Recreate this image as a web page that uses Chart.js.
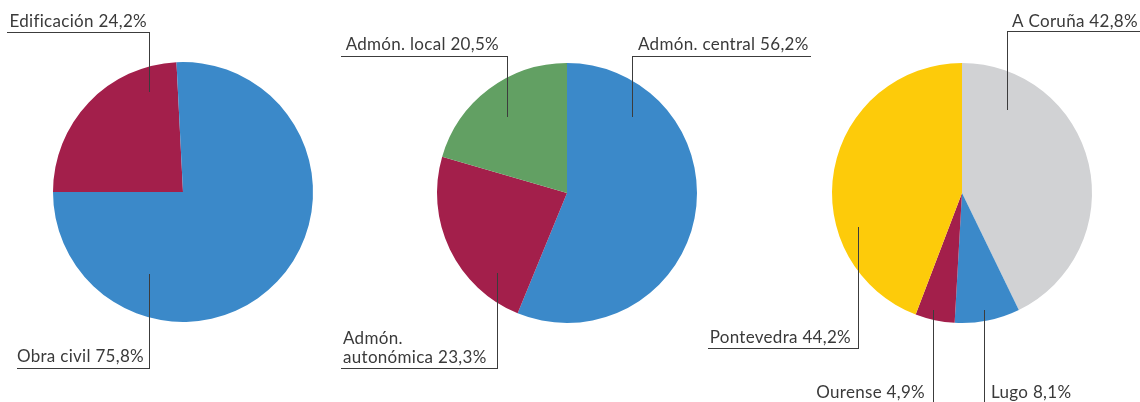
<!DOCTYPE html>
<html lang="es">
<head>
<meta charset="UTF-8">
<title>Licitación pública</title>
<script src="https://cdn.jsdelivr.net/npm/chart.js"></script>
<style>
    body { margin: 0; background: #fff; }
    #wrap { position: relative; width: 1140px; height: 402px; }
    #wrap canvas { position: absolute; left: 0; top: 0; }
</style>
</head>
<body>
<div id="wrap">
    <canvas id="tipoChart" width="1140" height="402"></canvas>
    <canvas id="adminChart" width="1140" height="402"></canvas>
    <canvas id="provChart" width="1140" height="402"></canvas>
</div>
<script>
    // datos
    const tipoCats = ['Edificación', 'Obra civil'];
    const tipoVals = [24.2, 75.8];
    const adminCats = ['Admón. central', 'Admón. autonómica', 'Admón. local'];
    const adminVals = [56.2, 23.3, 20.5];
    const provCats = ['A Coruña', 'Lugo', 'Ourense', 'Pontevedra'];
    const provVals = [42.8, 8.1, 4.9, 44.2];

    const BLUE = '#3b89c9', RED = '#a31f4b', GREEN = '#62a063', GREY = '#d1d2d4', YELLOW = '#fdcb0a';
    const FONT = '17px Lato, "Open Sans", sans-serif';

    function fmt(v) {
        return v.toFixed(1).replace('.', ',') + '%';
    }

    // etiquetas con línea guía
    const labelPlugin = {
        id: 'guias',
        afterDraw(chart, args, opts) {
            const ctx = chart.ctx;
            const cats = chart.data.labels;
            const vals = chart.data.datasets[0].data;
            ctx.save();
            ctx.font = FONT;
            ctx.letterSpacing = '0.3px';
            ctx.fillStyle = '#3a3a3a';
            ctx.strokeStyle = '#3c3c3c';
            ctx.lineWidth = 1;
            ctx.textBaseline = 'alphabetic';
            opts.items.forEach(it => {
                let text = cats[it.i] + ' ' + fmt(vals[it.i]);
                let lines = [text];
                if (it.wrap) {
                    const k = text.indexOf(' ');
                    lines = [text.slice(0, k), text.slice(k + 1)];
                }
                ctx.textAlign = it.align || 'left';
                lines.forEach((l, n) => {
                    ctx.fillText(l, it.x, it.y - (lines.length - 1 - n) * 19);
                });
                ctx.beginPath();
                ctx.moveTo(it.ul[0], it.ul[2] + 0.5);
                ctx.lineTo(it.ul[1], it.ul[2] + 0.5);
                ctx.moveTo(it.v[0] + 0.5, it.ul[2]);
                ctx.lineTo(it.v[0] + 0.5, it.v[1]);
                ctx.stroke();
            });
            ctx.restore();
        }
    };

    function makePie(id, cats, vals, colors, rotation, padding, items) {
        return new Chart(document.getElementById(id), {
            type: 'pie',
            data: {
                labels: cats,
                datasets: [{
                    data: vals,
                    backgroundColor: colors,
                    borderWidth: 0
                }]
            },
            options: {
                responsive: false,
                animation: false,
                devicePixelRatio: 1,
                rotation: rotation,
                layout: { padding: padding },
                plugins: {
                    legend: { display: false },
                    tooltip: { enabled: false },
                    guias: { items: items }
                }
            },
            plugins: [labelPlugin]
        });
    }

    makePie('tipoChart', tipoCats, tipoVals, [RED, BLUE], -90,
        { left: 53, top: 62, right: 827, bottom: 80 },
        [
            { i: 0, x: 147, y: 27, align: 'right', ul: [7, 150, 32], v: [149, 92] },
            { i: 1, x: 144, y: 362, align: 'right', ul: [17, 150, 368], v: [149, 274] }
        ]);

    makePie('adminChart', adminCats, adminVals, [BLUE, RED, GREEN], 0,
        { left: 437, top: 63, right: 443, bottom: 79 },
        [
            { i: 0, x: 638, y: 50, ul: [632, 811, 56], v: [632, 117] },
            { i: 1, x: 343, y: 363, wrap: true, ul: [341, 498, 368], v: [497, 273] },
            { i: 2, x: 499, y: 50, align: 'right', ul: [341, 508, 56], v: [507, 117] }
        ]);

    makePie('provChart', provCats, provVals, [GREY, BLUE, RED, YELLOW], 0,
        { left: 832, top: 63, right: 48, bottom: 79 },
        [
            { i: 0, x: 1012, y: 27, ul: [1007, 1140, 31], v: [1007, 110] },
            { i: 1, x: 991, y: 398, ul: [984, 984, 404], v: [984, 310] },
            { i: 2, x: 925, y: 398, align: 'right', ul: [933, 933, 404], v: [933, 310] },
            { i: 3, x: 851, y: 343, align: 'right', ul: [708, 859, 348], v: [858, 227] }
        ]);
</script>
</body>
</html>
